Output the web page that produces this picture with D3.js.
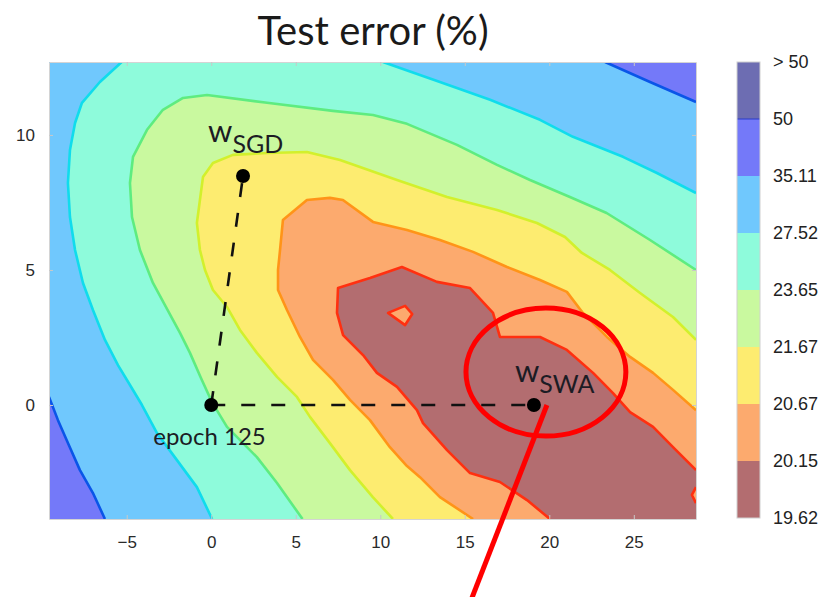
<!DOCTYPE html>
<html>
<head>
<meta charset="utf-8">
<script src="https://cdn.jsdelivr.net/npm/d3@7"></script>
<style>
  body { margin: 0; background: #fff; }
  svg { display: block; }
</style>
</head>
<body>
<div id="chart"></div>
<script>
// colorbar labels, bottom to top (band edges)
const levelLabels = ["19.62", "20.15", "20.67", "21.67", "23.65", "27.52", "35.11", "50", "> 50"];

const xTicks = [-5, 0, 5, 10, 15, 20, 25];
const yTicks = [0, 5, 10];

// visible extent of the plane
const xDomain = [-9.6, 28.68];
const yDomain = [-4.22, 12.7];

// contour lines, [x, y] in plane coords
const line35a = [[-9.6, 0.3], [-9.07, -0.56], [-8.48, -1.41], [-7.77, -2.41], [-7.0, -3.26], [-6.29, -4.22]];
const line35b = [[23.3, 12.7], [25.96, 11.96], [28.68, 11.22]];

const line27a = [[-5.3, 12.7], [-6.59, 11.96], [-7.65, 11.19], [-8.06, 10.44], [-8.36, 9.44], [-8.48, 8.22],
  [-8.36, 6.96], [-8.06, 5.74], [-7.59, 4.52], [-7.0, 3.52], [-6.29, 2.41], [-5.52, 1.48], [-4.81, 0.74],
  [-4.1, 0], [-3.21, -1.04], [-2.03, -2.04], [-0.85, -3.04], [0.05, -4.22]];
const line27b = [[10.16, 12.7], [13.53, 11.96], [16.5, 11.3], [19.45, 10.56], [21.4, 9.93], [24.36, 9.19],
  [26.37, 8.59], [28.68, 7.85]];

const line23 = [[28.68, 5.0], [25.96, 6.11], [23.39, 7.11], [21.22, 7.7], [18.86, 8.33], [16.91, 8.89],
  [14.54, 9.63], [11.58, 10.41], [9.57, 10.74], [7.2, 10.89], [3.3, 11.19], [-0.25, 11.48], [-1.67, 11.37],
  [-2.86, 10.93], [-3.8, 10.19], [-4.63, 9.19], [-4.81, 8.22], [-4.69, 6.96], [-4.22, 5.74], [-3.45, 4.52],
  [-2.74, 3.7], [-1.85, 2.67], [-1.26, 1.93], [-0.61, 1.0], [0.04, 0.11], [0.93, -0.81], [2.7, -1.93],
  [3.89, -2.89], [5.4, -4.22]];

const line21 = [[28.68, 2.41], [27.32, 3.26], [25.37, 4.15], [23.59, 5.0], [21.93, 5.63], [20.93, 6.22],
  [19.27, 6.74], [16.91, 7.22], [13.95, 7.7], [10.99, 8.33], [7.62, 9.07], [5.66, 9.37], [3.3, 9.33],
  [1.28, 9.26], [0.1, 8.96], [-0.49, 8.44], [-0.67, 7.59], [-0.85, 6.74], [-0.67, 5.74], [-0.37, 5.0],
  [0.1, 4.26], [0.93, 3.63], [1.7, 2.78], [2.7, 1.93], [3.89, 1.04], [5.07, 0.3], [5.84, -0.44],
  [7.02, -1.41], [8.21, -2.41], [9.56, -3.41], [10.75, -4.22]];

const line20 = [[28.68, -0.19], [27.32, 0.56], [26.14, 1.19], [24.78, 1.78], [23.41, 2.52], [21.99, 3.41],
  [21.04, 4.19], [19.45, 4.63], [17.5, 5.11], [15.49, 5.67], [13.53, 6.11], [11.58, 6.48], [9.57, 6.78],
  [7.79, 7.59], [7.02, 7.67], [5.66, 7.59], [4.24, 6.85], [4.07, 5.74], [3.95, 5.0], [3.95, 4.26],
  [4.48, 3.52], [5.25, 2.52], [6.02, 1.67], [7.2, 0.93], [8.21, 0.19], [9.39, -0.56], [10.57, -1.56],
  [11.58, -2.26], [12.35, -2.67], [13.53, -3.41], [15.49, -4.22]];

const line2015 = [[28.68, -2.41], [27.32, -1.56], [26.14, -0.81], [24.78, -0.26], [23.77, 0.44], [22.59, 1.19],
  [21.04, 2.04], [19.45, 2.52], [17.08, 2.52], [16.67, 3.41], [15.31, 4.33], [13.35, 4.56], [11.28, 5.11],
  [9.39, 4.7], [7.5, 4.33], [7.44, 3.41], [7.8, 2.59], [8.98, 1.85], [9.8, 1.19], [10.99, 0.67],
  [12.17, -0.19], [12.53, -0.67], [13.95, -1.67], [15.31, -2.52], [17.08, -2.85], [18.68, -3.52], [20.04, -4.22]];
// little islands above 20.15 inside the lowest band
const hole2015 = [[10.46, 3.41], [11.47, 3.67], [11.89, 3.37], [11.47, 2.96]];
const notch2015 = [[28.68, -3.04], [28.44, -3.33], [28.68, -3.63]];

// marked weights
const points = [
  { name: "epoch", x: 0, y: 0 },
  { name: "SGD", x: 1.88, y: 8.48 },
  { name: "SWA", x: 19.09, y: 0 }
];

// colours (jet, washed out)
const bandColors = ["#b36d70", "#fcaa6e", "#fdec70", "#c9f99f", "#8efbdb", "#70c8fd", "#7479f9", "#6d6db2"];
const lineColors = { c35: "#0a55e8", c27: "#10dcec", c23: "#5eec80", c21: "#d2f02c", c20: "#ff9418", c2015: "#ff3010" };

const width = 821, height = 597;
const margin = { top: 62, right: 125, bottom: 78, left: 49 };

const svg = d3.select("#chart").append("svg")
  .attr("width", width)
  .attr("height", height);

const x = d3.scaleLinear().domain(xDomain).range([margin.left, width - margin.right]);
const y = d3.scaleLinear().domain(yDomain).range([height - margin.bottom, margin.top]);

const TL = [xDomain[0], yDomain[1]];
const BR = [xDomain[1], yDomain[0]];

const line = d3.line().x((d) => x(d[0])).y((d) => y(d[1]));

svg.append("clipPath").attr("id", "plot-clip")
  .append("rect")
  .attr("x", x(xDomain[0])).attr("y", y(yDomain[1]))
  .attr("width", x(xDomain[1]) - x(xDomain[0]))
  .attr("height", y(yDomain[0]) - y(yDomain[1]));

const plot = svg.append("g").attr("clip-path", "url(#plot-clip)");

// background = band 35.11..50
plot.append("rect")
  .attr("x", x(xDomain[0])).attr("y", y(yDomain[1]))
  .attr("width", x(xDomain[1]) - x(xDomain[0]))
  .attr("height", y(yDomain[0]) - y(yDomain[1]))
  .attr("fill", bandColors[6]);

// filled regions, each one "below level", stacked from high to low
const regions = [
  { pts: [TL, ...line35a, BR, ...line35b.slice().reverse()], fill: bandColors[5] },
  { pts: [...line27a, BR, ...line27b.slice().reverse()], fill: bandColors[4] },
  { pts: [...line23, BR], fill: bandColors[3] },
  { pts: [...line21, BR], fill: bandColors[2] },
  { pts: [...line20, BR], fill: bandColors[1] },
  { pts: [...line2015, BR], fill: bandColors[0] },
  { pts: hole2015, fill: bandColors[1] },
  { pts: notch2015, fill: bandColors[1] }
];

plot.selectAll(".region")
  .data(regions)
  .enter()
  .append("path")
  .attr("class", "region")
  .attr("d", (d) => line(d.pts) + "Z")
  .attr("fill", (d) => d.fill);

const contourLines = [
  { pts: line35a, color: lineColors.c35 },
  { pts: line35b, color: lineColors.c35 },
  { pts: line27a, color: lineColors.c27 },
  { pts: line27b, color: lineColors.c27 },
  { pts: line23, color: lineColors.c23 },
  { pts: line21, color: lineColors.c21 },
  { pts: line20, color: lineColors.c20 },
  { pts: line2015, color: lineColors.c2015 },
  { pts: notch2015, color: lineColors.c2015 }
];

plot.selectAll(".contour")
  .data(contourLines)
  .enter()
  .append("path")
  .attr("class", "contour")
  .attr("d", (d) => line(d.pts))
  .attr("fill", "none")
  .attr("stroke", (d) => d.color)
  .attr("stroke-width", 2.6)
  .attr("stroke-linejoin", "round");

plot.append("path")
  .attr("d", line(hole2015) + "Z")
  .attr("fill", "none")
  .attr("stroke", lineColors.c2015)
  .attr("stroke-width", 2.6)
  .attr("stroke-linejoin", "round");

// frame + ticks on all four sides, pointing inward
const axisFont = "'Liberation Sans', Arial, sans-serif";

const xAxis = svg.append("g")
  .attr("transform", `translate(0,${y(yDomain[0])})`)
  .call(d3.axisBottom(x).tickValues(xTicks).tickSizeInner(-4).tickSizeOuter(0).tickPadding(17));
const yAxis = svg.append("g")
  .attr("transform", `translate(${x(xDomain[0])},0)`)
  .call(d3.axisLeft(y).tickValues(yTicks).tickSizeInner(-4).tickSizeOuter(0).tickPadding(14));
svg.append("g")
  .attr("transform", `translate(0,${y(yDomain[1])})`)
  .call(d3.axisTop(x).tickValues(xTicks).tickSizeInner(-4).tickSizeOuter(0).tickFormat(""));
svg.append("g")
  .attr("transform", `translate(${x(xDomain[1])},0)`)
  .call(d3.axisRight(y).tickValues(yTicks).tickSizeInner(-4).tickSizeOuter(0).tickFormat(""));

svg.selectAll(".domain").attr("stroke", "#d4d4d4");
svg.selectAll(".tick line").attr("stroke", "#c8c8c8");
svg.selectAll(".tick text")
  .style("font-family", axisFont)
  .style("font-size", "17px")
  .attr("fill", "#2a2a2a");

// dashed path epoch 125 -> SGD and epoch 125 -> SWA
const origin = points[0];
svg.selectAll(".dash")
  .data(points.slice(1))
  .enter()
  .append("line")
  .attr("class", "dash")
  .attr("x1", x(origin.x)).attr("y1", y(origin.y))
  .attr("x2", (d) => x(d.x)).attr("y2", (d) => y(d.y))
  .attr("stroke", "#111")
  .attr("stroke-width", 2.6)
  .attr("stroke-dasharray", "14,16");

svg.selectAll(".pt")
  .data(points)
  .enter()
  .append("circle")
  .attr("class", "pt")
  .attr("cx", (d) => x(d.x))
  .attr("cy", (d) => y(d.y))
  .attr("r", 7)
  .attr("fill", "#000");

// labels
const labelFont = "Lato, 'Open Sans', sans-serif";
const labelOffsets = { SGD: [-35, -34], SWA: [-19, -23] };

points.slice(1).forEach((p) => {
  const t = svg.append("text")
    .attr("x", x(p.x) + labelOffsets[p.name][0])
    .attr("y", y(p.y) + labelOffsets[p.name][1])
    .style("font-family", labelFont)
    .attr("fill", "#1c1c24");
  t.append("tspan").style("font-size", "31px").text("w");
  t.append("tspan").attr("dy", 11).style("font-size", "25px").text(p.name);
});

svg.append("text")
  .attr("x", x(origin.x) - 58)
  .attr("y", y(origin.y) + 40)
  .style("font-family", labelFont)
  .style("font-size", "24px")
  .attr("fill", "#1c1c24")
  .text("epoch 125");

// red ellipse round SWA and the pointer line
const ring = { cx: 19.8, cy: 1.22, rx: 4.73, ry: 2.37 };
svg.append("ellipse")
  .attr("cx", x(ring.cx)).attr("cy", y(ring.cy))
  .attr("rx", x(ring.cx + ring.rx) - x(ring.cx))
  .attr("ry", y(ring.cy - ring.ry) - y(ring.cy))
  .attr("fill", "none")
  .attr("stroke", "#ff0000")
  .attr("stroke-width", 5);

const pointer = [[19.86, 0], [15.2, -7.5]];
svg.append("path")
  .attr("d", line(pointer))
  .attr("stroke", "#ff0000")
  .attr("stroke-width", 5)
  .attr("fill", "none");

// title
svg.append("text")
  .attr("x", 373)
  .attr("y", 45)
  .attr("text-anchor", "middle")
  .style("font-family", labelFont)
  .style("font-size", "40px")
  .attr("fill", "#1a1a1a")
  .text("Test error (%)");

// colorbar
const cbX = 737, cbW = 23;
const cb = d3.scaleLinear().domain([0, bandColors.length]).range([y(yDomain[0]) - 1, y(yDomain[1])]);

svg.selectAll(".cb-band")
  .data(bandColors)
  .enter()
  .append("rect")
  .attr("class", "cb-band")
  .attr("x", cbX)
  .attr("y", (d, i) => cb(i + 1))
  .attr("width", cbW)
  .attr("height", (d, i) => cb(i) - cb(i + 1))
  .attr("fill", (d) => d);

svg.append("line")
  .attr("x1", cbX).attr("x2", cbX + cbW)
  .attr("y1", cb(7)).attr("y2", cb(7))
  .attr("stroke", "#2a3cc8")
  .attr("stroke-width", 1);

svg.append("rect")
  .attr("x", cbX).attr("y", cb(bandColors.length))
  .attr("width", cbW).attr("height", cb(0) - cb(bandColors.length))
  .attr("fill", "none")
  .attr("stroke", "#d0d0d0");

const cbAxis = svg.append("g")
  .attr("transform", `translate(${cbX + cbW},0)`)
  .call(d3.axisRight(cb).tickValues(d3.range(levelLabels.length)).tickFormat((i) => levelLabels[i]).tickSize(0).tickPadding(13));
cbAxis.select(".domain").remove();
cbAxis.selectAll("text")
  .style("font-family", axisFont)
  .style("font-size", "18px")
  .attr("fill", "#222");
</script>
</body>
</html>
